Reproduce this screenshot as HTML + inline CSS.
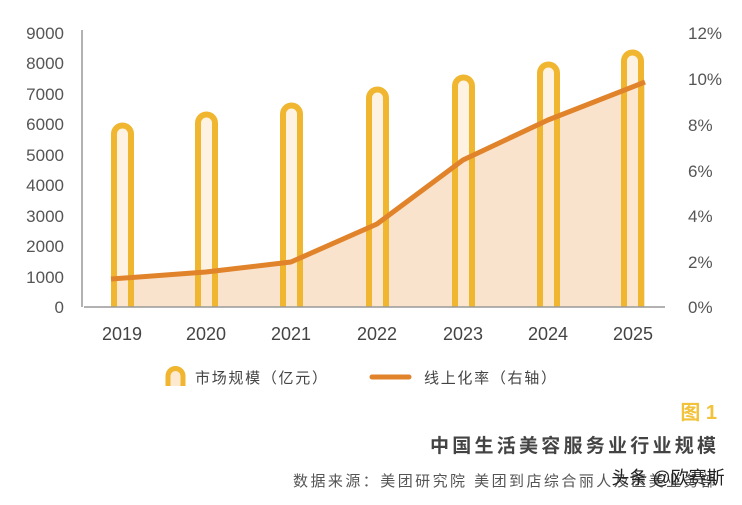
<!DOCTYPE html>
<html><head><meta charset="utf-8"><style>
body{margin:0;background:#fff;width:742px;height:500px;overflow:hidden}
text{font-family:"Liberation Sans","Noto Sans CJK SC",sans-serif}
</style></head><body>
<svg width="742" height="500" xmlns="http://www.w3.org/2000/svg">
<g font-size="17" fill="#555" text-anchor="end">
<text x="64" y="39">9000</text><text x="64" y="69">8000</text><text x="64" y="100">7000</text>
<text x="64" y="130">6000</text><text x="64" y="161">5000</text><text x="64" y="191">4000</text>
<text x="64" y="222">3000</text><text x="64" y="252">2000</text><text x="64" y="283">1000</text>
<text x="64" y="313">0</text>
</g>
<g font-size="17" fill="#555">
<text x="688" y="39">12%</text><text x="688" y="85">10%</text><text x="688" y="131">8%</text>
<text x="688" y="177">6%</text><text x="688" y="222">4%</text><text x="688" y="268">2%</text>
<text x="688" y="313">0%</text>
</g>
<line x1="82" y1="30" x2="82" y2="307" stroke="#999" stroke-width="1.5"/>
<path d="M111,279 L206,272 L291,262 L377,224 L463,160 L548,120 L645,82 L645,307 L111,307Z" fill="#f9e3cd"/>
<g fill="#fde9cf" fill-opacity="0.6" stroke="#f0b630" stroke-width="6">
<path d="M114,307 V134 a8.5,8.5 0 0 1 17,0 V307"/>
<path d="M198,307 V123 a8.5,8.5 0 0 1 17,0 V307"/>
<path d="M283,307 V114 a8.5,8.5 0 0 1 17,0 V307"/>
<path d="M369,307 V98 a8.5,8.5 0 0 1 17,0 V307"/>
<path d="M455,307 V86 a8.5,8.5 0 0 1 17,0 V307"/>
<path d="M540,307 V73 a8.5,8.5 0 0 1 17,0 V307"/>
<path d="M624,307 V61 a8.5,8.5 0 0 1 17,0 V307"/>
</g>
<polyline points="111,279 206,272 291,262 377,224 463,160 548,120 645,82" fill="none" stroke="#e0832a" stroke-width="5" stroke-linejoin="round"/>
<line x1="84" y1="307" x2="665" y2="307" stroke="#999" stroke-width="1.5"/>
<g font-size="18" fill="#444" text-anchor="middle">
<text x="122" y="340">2019</text><text x="206" y="340">2020</text><text x="291" y="340">2021</text>
<text x="377" y="340">2022</text><text x="463" y="340">2023</text><text x="548" y="340">2024</text>
<text x="633" y="340">2025</text>
</g>
<path d="M168,386 V376 a7.5,7.5 0 0 1 15,0 V386" fill="#fde9cf" stroke="#f0b630" stroke-width="5"/>
<text x="195" y="383" font-size="15" fill="#444" textLength="132">市场规模（亿元）</text>
<line x1="372" y1="377" x2="409" y2="377" stroke="#e0832a" stroke-width="5" stroke-linecap="round"/>
<text x="424" y="383" font-size="15" fill="#444" textLength="132">线上化率（右轴）</text>
<text x="717" y="419" font-size="20" font-weight="bold" fill="#f2c23a" text-anchor="end">图 1</text>
<text x="430" y="452" font-size="19" font-weight="bold" fill="#444" textLength="286">中国生活美容服务业行业规模</text>
<text x="293" y="486" font-size="15" fill="#555" textLength="423">数据来源：美团研究院  美团到店综合丽人及医美业务部</text>
<text x="668" y="484" font-size="18" fill="#222" text-anchor="middle">头条 @欧赛斯</text>
</svg>
</body></html>
